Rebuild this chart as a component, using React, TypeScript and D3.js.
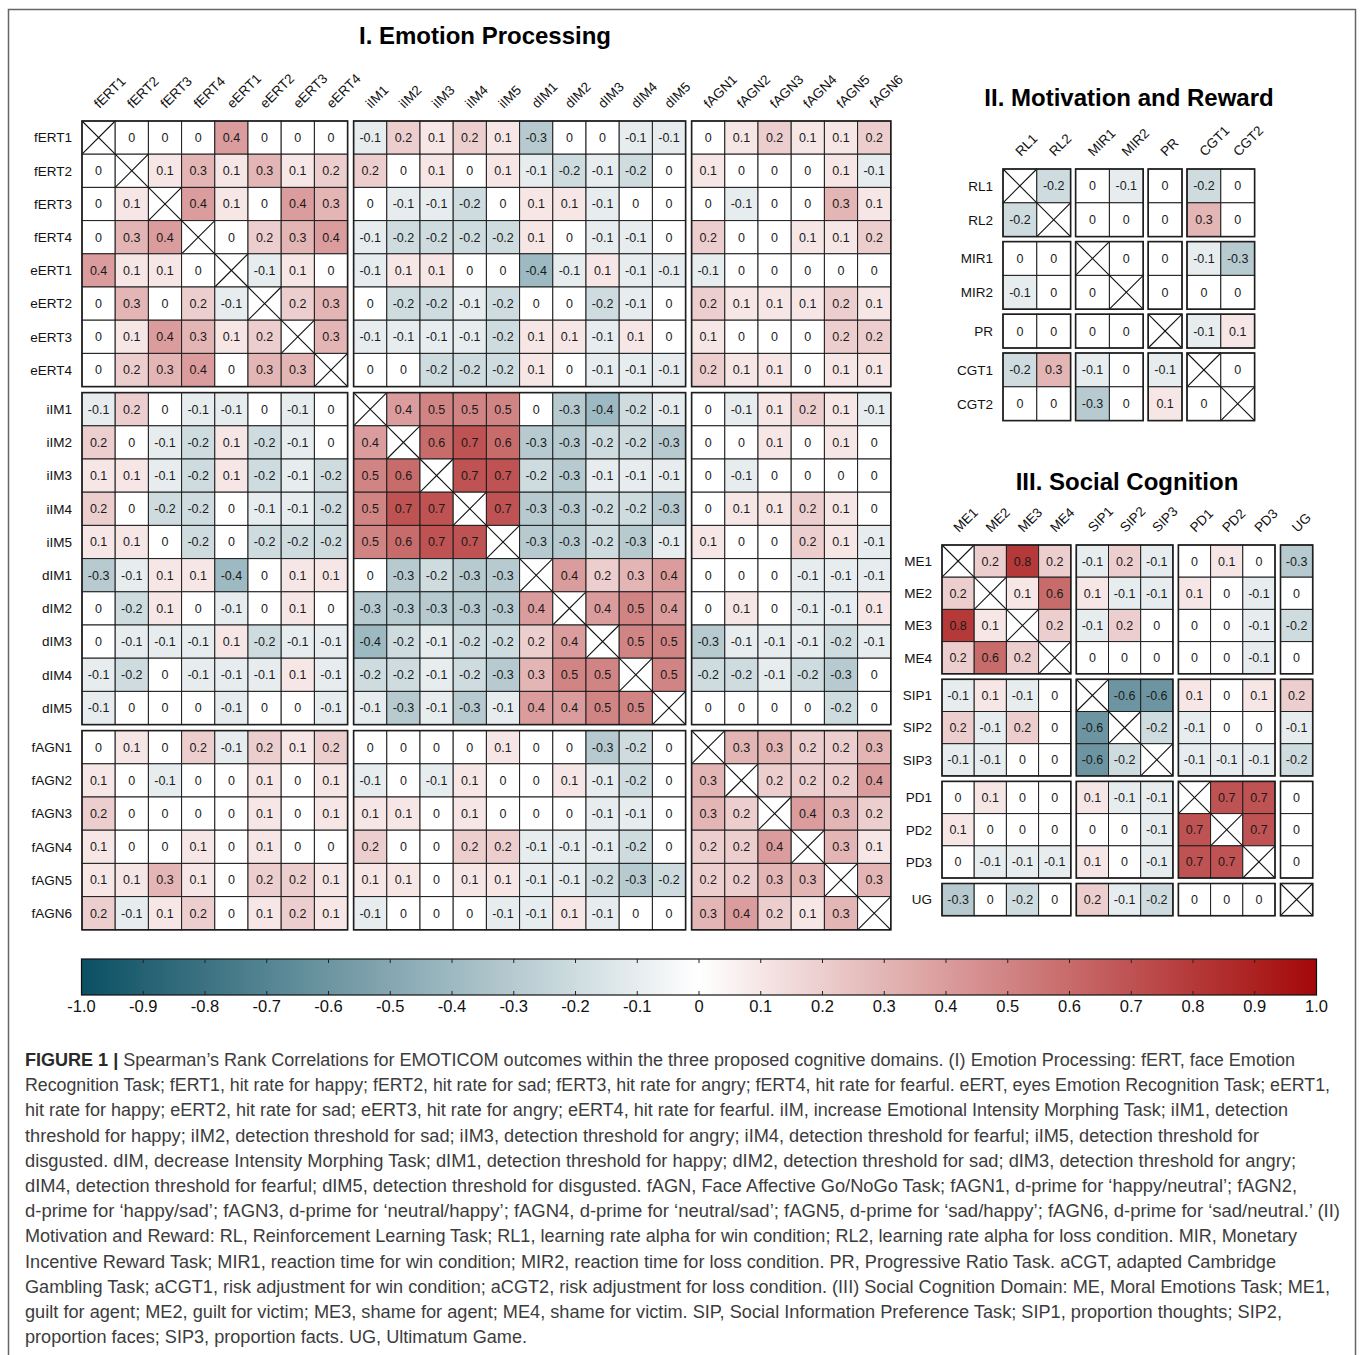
import React from 'react';
import * as d3 from 'd3';

const X = null;

// ---------- I. Emotion Processing ----------
const epLabels = ['fERT1','fERT2','fERT3','fERT4','eERT1','eERT2','eERT3','eERT4',
  'iIM1','iIM2','iIM3','iIM4','iIM5','dIM1','dIM2','dIM3','dIM4','dIM5',
  'fAGN1','fAGN2','fAGN3','fAGN4','fAGN5','fAGN6'];
const epGroups = [8, 10, 6];
const epValues: (number | null)[][] = [
  [X,0,0,0,0.4,0,0,0, -0.1,0.2,0.1,0.2,0.1,-0.3,0,0,-0.1,-0.1, 0,0.1,0.2,0.1,0.1,0.2],
  [0,X,0.1,0.3,0.1,0.3,0.1,0.2, 0.2,0,0.1,0,0.1,-0.1,-0.2,-0.1,-0.2,0, 0.1,0,0,0,0.1,-0.1],
  [0,0.1,X,0.4,0.1,0,0.4,0.3, 0,-0.1,-0.1,-0.2,0,0.1,0.1,-0.1,0,0, 0,-0.1,0,0,0.3,0.1],
  [0,0.3,0.4,X,0,0.2,0.3,0.4, -0.1,-0.2,-0.2,-0.2,-0.2,0.1,0,-0.1,-0.1,0, 0.2,0,0,0.1,0.1,0.2],
  [0.4,0.1,0.1,0,X,-0.1,0.1,0, -0.1,0.1,0.1,0,0,-0.4,-0.1,0.1,-0.1,-0.1, -0.1,0,0,0,0,0],
  [0,0.3,0,0.2,-0.1,X,0.2,0.3, 0,-0.2,-0.2,-0.1,-0.2,0,0,-0.2,-0.1,0, 0.2,0.1,0.1,0.1,0.2,0.1],
  [0,0.1,0.4,0.3,0.1,0.2,X,0.3, -0.1,-0.1,-0.1,-0.1,-0.2,0.1,0.1,-0.1,0.1,0, 0.1,0,0,0,0.2,0.2],
  [0,0.2,0.3,0.4,0,0.3,0.3,X, 0,0,-0.2,-0.2,-0.2,0.1,0,-0.1,-0.1,-0.1, 0.2,0.1,0.1,0,0.1,0.1],
  [-0.1,0.2,0,-0.1,-0.1,0,-0.1,0, X,0.4,0.5,0.5,0.5,0,-0.3,-0.4,-0.2,-0.1, 0,-0.1,0.1,0.2,0.1,-0.1],
  [0.2,0,-0.1,-0.2,0.1,-0.2,-0.1,0, 0.4,X,0.6,0.7,0.6,-0.3,-0.3,-0.2,-0.2,-0.3, 0,0,0.1,0,0.1,0],
  [0.1,0.1,-0.1,-0.2,0.1,-0.2,-0.1,-0.2, 0.5,0.6,X,0.7,0.7,-0.2,-0.3,-0.1,-0.1,-0.1, 0,-0.1,0,0,0,0],
  [0.2,0,-0.2,-0.2,0,-0.1,-0.1,-0.2, 0.5,0.7,0.7,X,0.7,-0.3,-0.3,-0.2,-0.2,-0.3, 0,0.1,0.1,0.2,0.1,0],
  [0.1,0.1,0,-0.2,0,-0.2,-0.2,-0.2, 0.5,0.6,0.7,0.7,X,-0.3,-0.3,-0.2,-0.3,-0.1, 0.1,0,0,0.2,0.1,-0.1],
  [-0.3,-0.1,0.1,0.1,-0.4,0,0.1,0.1, 0,-0.3,-0.2,-0.3,-0.3,X,0.4,0.2,0.3,0.4, 0,0,0,-0.1,-0.1,-0.1],
  [0,-0.2,0.1,0,-0.1,0,0.1,0, -0.3,-0.3,-0.3,-0.3,-0.3,0.4,X,0.4,0.5,0.4, 0,0.1,0,-0.1,-0.1,0.1],
  [0,-0.1,-0.1,-0.1,0.1,-0.2,-0.1,-0.1, -0.4,-0.2,-0.1,-0.2,-0.2,0.2,0.4,X,0.5,0.5, -0.3,-0.1,-0.1,-0.1,-0.2,-0.1],
  [-0.1,-0.2,0,-0.1,-0.1,-0.1,0.1,-0.1, -0.2,-0.2,-0.1,-0.2,-0.3,0.3,0.5,0.5,X,0.5, -0.2,-0.2,-0.1,-0.2,-0.3,0],
  [-0.1,0,0,0,-0.1,0,0,-0.1, -0.1,-0.3,-0.1,-0.3,-0.1,0.4,0.4,0.5,0.5,X, 0,0,0,0,-0.2,0],
  [0,0.1,0,0.2,-0.1,0.2,0.1,0.2, 0,0,0,0,0.1,0,0,-0.3,-0.2,0, X,0.3,0.3,0.2,0.2,0.3],
  [0.1,0,-0.1,0,0,0.1,0,0.1, -0.1,0,-0.1,0.1,0,0,0.1,-0.1,-0.2,0, 0.3,X,0.2,0.2,0.2,0.4],
  [0.2,0,0,0,0,0.1,0,0.1, 0.1,0.1,0,0.1,0,0,0,-0.1,-0.1,0, 0.3,0.2,X,0.4,0.3,0.2],
  [0.1,0,0,0.1,0,0.1,0,0, 0.2,0,0,0.2,0.2,-0.1,-0.1,-0.1,-0.2,0, 0.2,0.2,0.4,X,0.3,0.1],
  [0.1,0.1,0.3,0.1,0,0.2,0.2,0.1, 0.1,0.1,0,0.1,0.1,-0.1,-0.1,-0.2,-0.3,-0.2, 0.2,0.2,0.3,0.3,X,0.3],
  [0.2,-0.1,0.1,0.2,0,0.1,0.2,0.1, -0.1,0,0,0,-0.1,-0.1,0.1,-0.1,0,0, 0.3,0.4,0.2,0.1,0.3,X],
];

// ---------- II. Motivation and Reward ----------
const mrLabels = ['RL1','RL2','MIR1','MIR2','PR','CGT1','CGT2'];
const mrGroups = [2, 2, 1, 2];
const mrValues: (number | null)[][] = [
  [X,-0.2, 0,-0.1, 0, -0.2,0],
  [-0.2,X, 0,0, 0, 0.3,0],
  [0,0, X,0, 0, -0.1,-0.3],
  [-0.1,0, 0,X, 0, 0,0],
  [0,0, 0,0, X, -0.1,0.1],
  [-0.2,0.3, -0.1,0, -0.1, X,0],
  [0,0, -0.3,0, 0.1, 0,X],
];

// ---------- III. Social Cognition ----------
const scLabels = ['ME1','ME2','ME3','ME4','SIP1','SIP2','SIP3','PD1','PD2','PD3','UG'];
const scGroups = [4, 3, 3, 1];
const scValues: (number | null)[][] = [
  [X,0.2,0.8,0.2, -0.1,0.2,-0.1, 0,0.1,0, -0.3],
  [0.2,X,0.1,0.6, 0.1,-0.1,-0.1, 0.1,0,-0.1, 0],
  [0.8,0.1,X,0.2, -0.1,0.2,0, 0,0,-0.1, -0.2],
  [0.2,0.6,0.2,X, 0,0,0, 0,0,-0.1, 0],
  [-0.1,0.1,-0.1,0, X,-0.6,-0.6, 0.1,0,0.1, 0.2],
  [0.2,-0.1,0.2,0, -0.6,X,-0.2, -0.1,0,0, -0.1],
  [-0.1,-0.1,0,0, -0.6,-0.2,X, -0.1,-0.1,-0.1, -0.2],
  [0,0.1,0,0, 0.1,-0.1,-0.1, X,0.7,0.7, 0],
  [0.1,0,0,0, 0,0,-0.1, 0.7,X,0.7, 0],
  [0,-0.1,-0.1,-0.1, 0.1,0,-0.1, 0.7,0.7,X, 0],
  [-0.3,0,-0.2,0, 0.2,-0.1,-0.2, 0,0,0, X],
];

const colorbarTicks = [-1.0,-0.9,-0.8,-0.7,-0.6,-0.5,-0.4,-0.3,-0.2,-0.1,0,0.1,0.2,0.3,0.4,0.5,0.6,0.7,0.8,0.9,1.0];
const colorbarTickLabels = ['-1.0','-0.9','-0.8','-0.7','-0.6','-0.5','-0.4','-0.3','-0.2','-0.1','0','0.1','0.2','0.3','0.4','0.5','0.6','0.7','0.8','0.9','1.0'];

const titles = ['I. Emotion Processing', 'II. Motivation and Reward', 'III. Social Cognition'];

const captionBold = 'FIGURE 1 | ';
const captionLines = [
  'Spearman’s Rank Correlations for EMOTICOM outcomes within the three proposed cognitive domains. (I) Emotion Processing: fERT, face Emotion',
  'Recognition Task; fERT1, hit rate for happy; fERT2, hit rate for sad; fERT3, hit rate for angry; fERT4, hit rate for fearful. eERT, eyes Emotion Recognition Task; eERT1,',
  'hit rate for happy; eERT2, hit rate for sad; eERT3, hit rate for angry; eERT4, hit rate for fearful. iIM, increase Emotional Intensity Morphing Task; iIM1, detection',
  'threshold for happy; iIM2, detection threshold for sad; iIM3, detection threshold for angry; iIM4, detection threshold for fearful; iIM5, detection threshold for',
  'disgusted. dIM, decrease Intensity Morphing Task; dIM1, detection threshold for happy; dIM2, detection threshold for sad; dIM3, detection threshold for angry;',
  'dIM4, detection threshold for fearful; dIM5, detection threshold for disgusted. fAGN, Face Affective Go/NoGo Task; fAGN1, d-prime for ‘happy/neutral’; fAGN2,',
  'd-prime for ‘happy/sad’; fAGN3, d-prime for ‘neutral/happy’; fAGN4, d-prime for ‘neutral/sad’; fAGN5, d-prime for ‘sad/happy’; fAGN6, d-prime for ‘sad/neutral.’ (II)',
  'Motivation and Reward: RL, Reinforcement Learning Task; RL1, learning rate alpha for win condition; RL2, learning rate alpha for loss condition. MIR, Monetary',
  'Incentive Reward Task; MIR1, reaction time for win condition; MIR2, reaction time for loss condition. PR, Progressive Ratio Task. aCGT, adapted Cambridge',
  'Gambling Task; aCGT1, risk adjustment for win condition; aCGT2, risk adjustment for loss condition. (III) Social Cognition Domain: ME, Moral Emotions Task; ME1,',
  'guilt for agent; ME2, guilt for victim; ME3, shame for agent; ME4, shame for victim. SIP, Social Information Preference Task; SIP1, proportion thoughts; SIP2,',
  'proportion faces; SIP3, proportion facts. UG, Ultimatum Game.',
];

// layout (not data)
const CAPTION_X = 25;
const CAPTION_Y0 = 1066;
const CAPTION_DY = 25.2;
const captionEnds = [1295, 1330, 1288, 1259, 1296, 1297, 1340, 1297, 1276, 1330, 1282, 527];

const FONT = '"Liberation Sans", Arial, Helvetica, sans-serif';
const color = d3.scaleLinear<string>()
  .domain([-1, 0, 1])
  .range(['#0b4f63', '#ffffff', '#a30808'])
  .interpolate(d3.interpolateRgb)
  .clamp(true);

const fmt = (v: number) => (v === 0 ? '0' : String(v));

type MatrixProps = {
  labels: string[];
  groups: number[];
  values: (number | null)[][];
  x0: number;
  y0: number;
  cell: number;
  gap: number;
};

function positions(labels: string[], groups: number[], start: number, cell: number, gap: number) {
  const groupOf: number[] = [];
  groups.forEach((n, g) => { for (let k = 0; k < n; k++) groupOf.push(g); });
  const range = labels.map((_, i) => start + i * cell + groupOf[i] * gap);
  const scale = d3.scaleOrdinal<string, number>().domain(labels).range(range);
  return { scale, groupOf };
}

function Matrix({ labels, groups, values, x0, y0, cell, gap }: MatrixProps) {
  const { scale: xs } = positions(labels, groups, x0, cell, gap);
  const { scale: ys } = positions(labels, groups, y0, cell, gap);
  const blocks: { x: number; y: number; w: number; h: number }[] = [];
  let ri = 0;
  groups.forEach((rn) => {
    let ci = 0;
    groups.forEach((cn) => {
      blocks.push({ x: xs(labels[ci]), y: ys(labels[ri]), w: cn * cell, h: rn * cell });
      ci += cn;
    });
    ri += rn;
  });
  return (
    <g>
      {values.map((row, r) =>
        row.map((v, c) => {
          const x = xs(labels[c]);
          const y = ys(labels[r]);
          return (
            <g key={`${r}-${c}`}>
              <rect x={x} y={y} width={cell} height={cell}
                fill={v === null ? '#ffffff' : color(v)} stroke="#1e1e1e" strokeWidth={1} />
              {v === null ? (
                <g stroke="#111" strokeWidth={1.1}>
                  <line x1={x} y1={y} x2={x + cell} y2={y + cell} />
                  <line x1={x + cell} y1={y} x2={x} y2={y + cell} />
                </g>
              ) : (
                <text x={x + cell / 2} y={y + cell / 2 + 4.4} textAnchor="middle"
                  fontSize={12.5} fill="#1a1a1a" fontFamily={FONT}>{fmt(v)}</text>
              )}
            </g>
          );
        })
      )}
      {blocks.map((b, i) => (
        <rect key={i} x={b.x} y={b.y} width={b.w} height={b.h} fill="none" stroke="#1e1e1e" strokeWidth={1.6} />
      ))}
      {labels.map((l) => (
        <text key={'r' + l} x={x0 - 10} y={ys(l) + cell / 2 + 4.8} textAnchor="end"
          fontSize={13.5} fill="#111" fontFamily={FONT}>{l}</text>
      ))}
      {labels.map((l) => (
        <text key={'c' + l} transform={`translate(${xs(l) + cell / 2 + 1},${y0 - 12}) rotate(-45)`}
          textAnchor="start" fontSize={13.5} fill="#111" fontFamily={FONT}>{l}</text>
      ))}
    </g>
  );
}

function Colorbar() {
  const x0 = 81.5, x1 = 1316.5, y0 = 959, y1 = 995;
  const xs = d3.scaleLinear().domain([-1, 1]).range([x0, x1]);
  const stops = d3.range(0, 41).map((i) => -1 + i * 0.05);
  return (
    <g>
      <defs>
        <linearGradient id="cbar" x1="0" x2="1" y1="0" y2="0">
          {stops.map((s, i) => (
            <stop key={i} offset={(s + 1) / 2} stopColor={color(s)} />
          ))}
        </linearGradient>
      </defs>
      <rect x={x0} y={y0} width={x1 - x0} height={y1 - y0} fill="url(#cbar)" stroke="#111" strokeWidth={1.2} />
      {colorbarTicks.map((t, i) => (
        <g key={i}>
          {i > 0 && i < colorbarTicks.length - 1 && (
            <g stroke="#222" strokeWidth={1}>
              <line x1={xs(t)} x2={xs(t)} y1={y0} y2={y0 + 4} />
              <line x1={xs(t)} x2={xs(t)} y1={y1 - 4} y2={y1} />
            </g>
          )}
          <text x={xs(t)} y={1012} textAnchor="middle" fontSize={16.5} fill="#111" fontFamily={FONT}>
            {colorbarTickLabels[i]}
          </text>
        </g>
      ))}
    </g>
  );
}

export default function App() {
  return (
    <svg width={1360} height={1355} style={{ position: 'absolute', left: 0, top: 0, background: '#fff' }}
      xmlns="http://www.w3.org/2000/svg">
      <rect x={0} y={0} width={1360} height={1355} fill="#fff" />
      <rect x={8.5} y={9.5} width={1347} height={1370} fill="none" stroke="#666" strokeWidth={1.5} />

      <text x={485} y={44} textAnchor="middle" fontSize={24} fontWeight="bold" fill="#000" fontFamily={FONT}>{titles[0]}</text>
      <text x={1129} y={106} textAnchor="middle" fontSize={24} fontWeight="bold" fill="#000" fontFamily={FONT}>{titles[1]}</text>
      <text x={1127} y={490} textAnchor="middle" fontSize={24} fontWeight="bold" fill="#000" fontFamily={FONT}>{titles[2]}</text>

      <Matrix labels={epLabels} groups={epGroups} values={epValues} x0={82} y0={121} cell={33.2} gap={6} />
      <Matrix labels={mrLabels} groups={mrGroups} values={mrValues} x0={1003} y0={169} cell={33.8} gap={5} />
      <Matrix labels={scLabels} groups={scGroups} values={scValues} x0={942} y0={545} cell={32.2} gap={5.5} />

      <Colorbar />

      {captionLines.map((line, i) => (
        <text key={i} x={CAPTION_X} y={CAPTION_Y0 + i * CAPTION_DY} fontSize={17.5} fill="#3c3c3c"
          fontFamily={FONT} textLength={captionEnds[i] - CAPTION_X} lengthAdjust="spacingAndGlyphs">
          {i === 0 && <tspan fontWeight="bold" fill="#2a2a2a">{captionBold}</tspan>}
          {line}
        </text>
      ))}
    </svg>
  );
}
